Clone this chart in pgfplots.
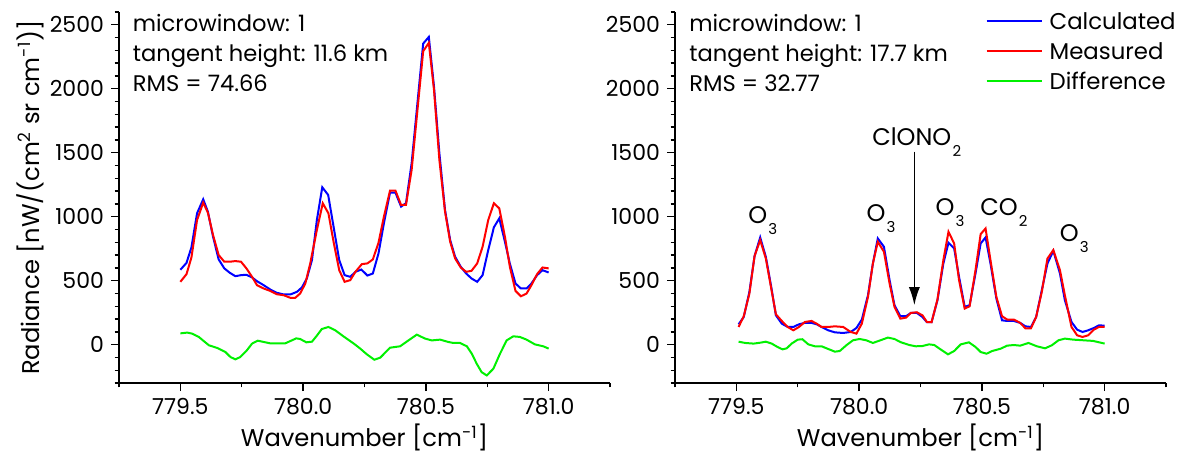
\documentclass[border=0pt]{standalone}
\usepackage{fontspec}
\setmainfont{Poppins}
\usepackage{pgfplots}
\pgfplotsset{compat=1.18}
\usetikzlibrary{arrows.meta}
\definecolor{cblue}{RGB}{0,0,255}
\definecolor{cred}{RGB}{255,0,0}
\definecolor{cgreen}{RGB}{0,240,0}
\newcommand{\sub}[1]{\hspace{0.6pt}\raisebox{-5.5pt}{\fontsize{7.5}{8}\selectfont #1}}
\newcommand{\txtfont}{\fontsize{11.3}{13}\selectfont}
\newcommand{\labfont}{\fontsize{12.1}{14}\selectfont}
\pgfplotsset{
  myaxis/.style={
    scale only axis, width=245.5pt, height=185.5pt,
    xmin=779.25, xmax=781.25, ymin=-300, ymax=2600,
    axis lines=left, axis line style={-, line width=0.8pt},
    xtick={779.5,780,780.5,781},
    minor xtick={779.25,779.75,780.25,780.75,781.25},
    ytick={0,500,1000,1500,2000,2500},
    minor ytick={-300,-200,...,2600},
    tick align=outside, major tick length=4pt, minor tick length=2.2pt,
    tick style={black, line width=0.7pt},
    /pgf/number format/assume math mode=true,
    /pgf/number format/1000 sep={},
    xticklabel style={/pgf/number format/.cd, fixed, fixed zerofill, precision=1},
    tick label style={font=\fontsize{11}{13}\selectfont},
    every axis x label/.style={at={(axis description cs:0.5,-0.148)}, anchor=center, font=\labfont},
    every axis y label/.style={at={(axis description cs:-0.181,0.5)}, rotate=90, anchor=center, font=\labfont},
    xlabel={Wavenumber [cm\textsuperscript{-1}]},
    clip=false,
    every axis plot/.append style={line width=1pt},
  }
}
\begin{document}
\begin{tikzpicture}
\path[use as bounding box] (-59.5pt,-36.5pt) rectangle (534pt,191.5pt);
% ---------------- left panel ----------------
\begin{axis}[myaxis, at={(0pt,0pt)}, anchor=south west,
  ylabel={Radiance [nW/(cm\textsuperscript{2} sr cm\textsuperscript{-1})]}]
\addplot[cblue] coordinates {(779.50,585) (779.525,639) (779.545,760) (779.568,1027) (779.593,1136) (779.612,1040) (779.633,844) (779.656,666) (779.679,596) (779.701,562) (779.724,535) (779.747,543) (779.769,546) (779.792,525) (779.812,496) (779.839,465) (779.866,431) (779.893,405) (779.921,392) (779.948,392) (779.975,413) (779.995,447) (780.015,517) (780.036,661) (780.056,974) (780.078,1230) (780.102,1170) (780.124,922) (780.147,661) (780.169,543) (780.192,530) (780.213,569) (780.237,587) (780.262,540) (780.284,556) (780.307,713) (780.329,948) (780.354,1188) (780.376,1188) (780.399,1079) (780.419,1105) (780.442,1418) (780.489,2353) (780.512,2405) (780.533,2019) (780.555,1496) (780.578,1052) (780.599,817) (780.619,687) (780.642,609) (780.664,556) (780.686,517) (780.709,491) (780.731,543) (780.754,739) (780.777,917) (780.799,987) (780.822,804) (780.842,634) (780.865,478) (780.887,439) (780.910,439) (780.930,478) (780.953,543) (780.975,582) (781.000,564)};
\addplot[cred] coordinates {(779.50,491) (779.525,551) (779.545,681) (779.568,974) (779.593,1110) (779.612,1032) (779.633,857) (779.656,700) (779.679,648) (779.701,648) (779.724,653) (779.747,648) (779.769,596) (779.792,530) (779.812,465) (779.839,439) (779.866,420) (779.893,394) (779.921,386) (779.948,366) (779.968,366) (779.988,400) (780.009,478) (780.029,635) (780.056,896) (780.080,1105) (780.103,1027) (780.124,804) (780.147,582) (780.169,491) (780.192,504) (780.213,569) (780.239,629) (780.262,635) (780.284,666) (780.307,796) (780.329,1000) (780.354,1204) (780.376,1204) (780.399,1092) (780.419,1092) (780.442,1366) (780.489,2293) (780.512,2359) (780.533,1993) (780.555,1444) (780.578,1040) (780.599,804) (780.619,674) (780.642,603) (780.664,569) (780.686,577) (780.709,635) (780.731,765) (780.754,974) (780.777,1105) (780.799,1065) (780.822,843) (780.842,609) (780.865,420) (780.887,378) (780.910,399) (780.930,465) (780.953,551) (780.975,603) (781.000,596)};
\addplot[cgreen] coordinates {(779.50,88) (779.528,94) (779.548,86) (779.575,60) (779.616,-5) (779.650,-26) (779.683,-57) (779.704,-97) (779.724,-115) (779.744,-97) (779.771,-44) (779.792,8) (779.815,31) (779.839,21) (779.866,10) (779.893,10) (779.927,10) (779.948,28) (779.972,49) (779.988,44) (780.013,18) (780.036,23) (780.056,70) (780.076,122) (780.103,138) (780.131,112) (780.164,65) (780.205,10) (780.232,-30) (780.259,-75) (780.290,-118) (780.314,-102) (780.354,-24) (780.395,-13) (780.429,33) (780.463,78) (780.497,47) (780.524,33) (780.558,39) (780.591,21) (780.612,13) (780.639,13) (780.667,-13) (780.687,-71) (780.707,-149) (780.727,-215) (780.748,-241) (780.775,-188) (780.802,-71) (780.829,33) (780.856,65) (780.883,60) (780.910,39) (780.944,2) (780.978,-13) (781.000,-31)};
\node[anchor=base west, inner sep=0pt, font=\txtfont] at (axis cs:779.305,2448) {microwindow: 1};
\node[anchor=base west, inner sep=0pt, font=\txtfont] at (axis cs:779.305,2212) {tangent height: 11.6 km};
\node[anchor=base west, inner sep=0pt, font=\txtfont] at (axis cs:779.305,1977) {RMS = 74.66};
\end{axis}
% ---------------- right panel ----------------
\begin{axis}[myaxis, at={(278pt,0pt)}, anchor=south west,
  legend style={at={(axis description cs:0.632,0.997)}, anchor=north west, draw=none, fill=none,
    inner sep=0pt, font=\fontsize{11.4}{13}\selectfont, legend cell align=left,
    nodes={inner sep=0pt, text height=8pt, text depth=7pt},
    /tikz/every odd column/.append style={column sep=3.5pt}},
  legend image code/.code={\draw[#1] (0pt,4pt) -- (27.5pt,4pt);}]
\addplot[cblue] coordinates {(779.509,159) (779.530,216) (779.553,412) (779.574,692) (779.597,838) (779.620,686) (779.642,451) (779.661,229) (779.685,164) (779.709,138) (779.732,138) (779.755,159) (779.779,170) (779.806,170) (779.827,159) (779.847,138) (779.874,112) (779.901,96) (779.935,91) (779.966,99) (779.989,130) (780.011,196) (780.036,386) (780.056,634) (780.076,830) (780.101,765) (780.124,504) (780.144,308) (780.168,222) (780.191,222) (780.211,248) (780.235,248) (780.258,216) (780.276,175) (780.295,175) (780.319,347) (780.343,634) (780.364,796) (780.387,752) (780.407,530) (780.430,295) (780.450,308) (780.474,556) (780.495,791) (780.515,838) (780.535,634) (780.559,360) (780.582,190) (780.603,185) (780.630,185) (780.656,170) (780.677,143) (780.700,138) (780.721,216) (780.744,425) (780.767,634) (780.791,733) (780.818,556) (780.838,347) (780.865,177) (780.888,117) (780.910,99) (780.933,112) (780.956,130) (780.977,151) (781.000,148)};
\addlegendentry{Calculated}
\addplot[cred] coordinates {(779.509,138) (779.530,222) (779.553,399) (779.574,692) (779.597,817) (779.620,673) (779.642,438) (779.661,237) (779.685,185) (779.709,138) (779.732,112) (779.755,138) (779.779,177) (779.806,185) (779.827,164) (779.847,138) (779.874,138) (779.901,143) (779.935,138) (779.966,99) (779.989,86) (780.011,164) (780.036,373) (780.056,634) (780.076,804) (780.101,726) (780.124,478) (780.144,295) (780.168,203) (780.191,211) (780.211,248) (780.235,253) (780.258,229) (780.276,177) (780.295,175) (780.319,352) (780.343,660) (780.364,882) (780.387,791) (780.407,504) (780.430,282) (780.450,300) (780.474,582) (780.495,864) (780.515,908) (780.535,660) (780.559,373) (780.582,222) (780.603,196) (780.630,196) (780.656,170) (780.677,128) (780.700,128) (780.721,216) (780.744,412) (780.767,673) (780.791,739) (780.818,582) (780.838,386) (780.865,138) (780.888,73) (780.910,60) (780.933,73) (780.956,117) (780.977,138) (781.000,138)};
\addlegendentry{Measured}
\addplot[cgreen] coordinates {(779.509,23) (779.536,13) (779.570,8) (779.597,15) (779.620,23) (779.644,8) (779.667,-18) (779.688,-37) (779.705,-29) (779.725,8) (779.750,39) (779.769,42) (779.793,2) (779.820,-13) (779.847,-13) (779.874,-34) (779.901,-55) (779.921,-50) (779.948,-5) (779.975,34) (780.002,44) (780.029,34) (780.056,13) (780.087,34) (780.117,55) (780.144,44) (780.171,18) (780.204,-3) (780.231,-13) (780.258,-11) (780.285,2) (780.306,-3) (780.333,-39) (780.362,-76) (780.387,-50) (780.414,2) (780.447,18) (780.474,-18) (780.495,-58) (780.519,-71) (780.542,-50) (780.576,-32) (780.603,-8) (780.630,-3) (780.656,-8) (780.690,13) (780.724,-13) (780.757,-29) (780.785,-5) (780.812,34) (780.838,47) (780.872,39) (780.913,34) (780.953,29) (781.000,8)};
\addlegendentry{Difference}
\node[anchor=base west, inner sep=0pt, font=\txtfont] at (axis cs:779.307,2448) {microwindow: 1};
\node[anchor=base west, inner sep=0pt, font=\txtfont] at (axis cs:779.307,2212) {tangent height: 17.7 km};
\node[anchor=base west, inner sep=0pt, font=\txtfont] at (axis cs:779.307,1977) {RMS = 32.77};
\begin{scope}[every node/.style={anchor=base west, inner sep=0pt, font=\fontsize{12}{14}\selectfont}]
\node at (axis cs:779.547,948) {O\sub{3}};
\node at (axis cs:780.029,961) {O\sub{3}};
\node at (axis cs:780.310,1013) {O\sub{3}};
\node at (axis cs:780.492,1013) {CO\sub{2}};
\node at (axis cs:780.816,804) {O\sub{3}};
\node at (axis cs:780.052,1554) {ClONO\sub{2}};
\end{scope}
\draw[line width=0.8pt, -{Latex[length=9pt,width=5.5pt]}] (axis cs:780.225,1509) -- (axis cs:780.225,308);
\end{axis}
\end{tikzpicture}
\end{document}
